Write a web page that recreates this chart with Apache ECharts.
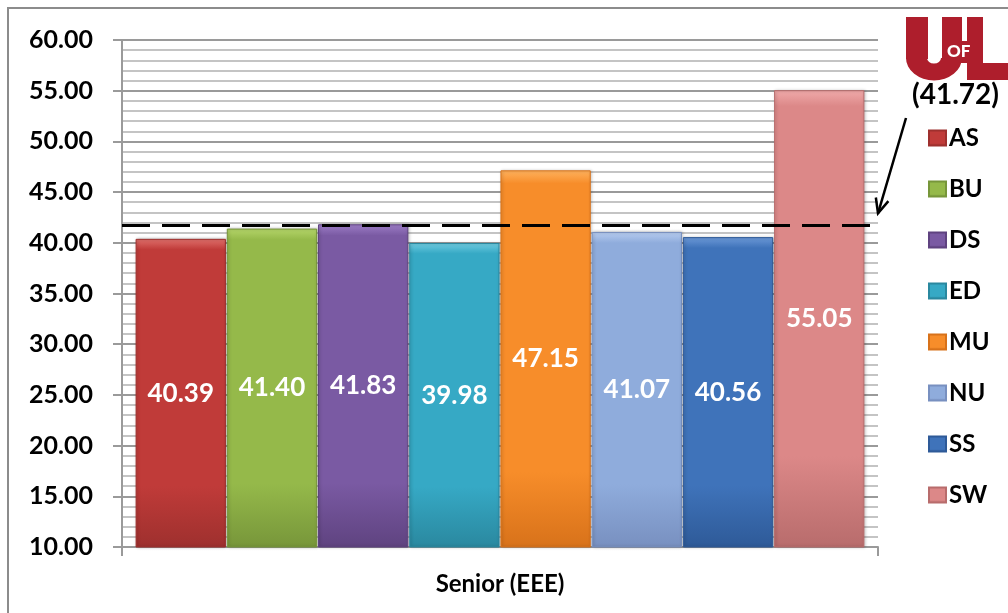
<!DOCTYPE html>
<html>
<head>
<meta charset="utf-8">
<script src="https://cdn.jsdelivr.net/npm/echarts@6/dist/echarts.min.js"></script>
<style>
  html, body { margin: 0; padding: 0; background: #fff; }
  #chart { width: 1008px; height: 613px; }
</style>
</head>
<body>
<div id="chart"></div>
<script>
// Senior (EEE) scores by college, with the university-wide average as a reference line
const categories = ['Senior (EEE)'];
const colleges = ['AS', 'BU', 'DS', 'ED', 'MU', 'NU', 'SS', 'SW'];
const scores = [40.39, 41.40, 41.83, 39.98, 47.15, 41.07, 40.56, 55.05];
const universityAverage = 41.72;
const yTicks = { min: 10, max: 60, interval: 5 };

// top highlight, body, bottom shade for each college
const palette = [
  ['#E0706C', '#C03B39', '#9E302E'],
  ['#B5D66A', '#95B94A', '#77963A'],
  ['#9C7DC6', '#7A5AA3', '#5F4380'],
  ['#6FCBE0', '#36A9C5', '#2A889F'],
  ['#FFB25E', '#F78D2A', '#D8721A'],
  ['#B8CDF0', '#8FACDC', '#7890C0'],
  ['#6D9AD8', '#3F73BA', '#2E5A98'],
  ['#F0AAAA', '#DC8888', '#B86C6C']
];

function barFill(c) {
  return new echarts.graphic.LinearGradient(0, 0, 0, 1, [
    { offset: 0, color: c[0] },
    { offset: 0.035, color: c[1] },
    { offset: 0.8, color: c[1] },
    { offset: 1, color: c[2] }
  ]);
}

const textFont = 'Lato';

const series = colleges.map((name, i) => {
  const s = {
    name: name,
    type: 'bar',
    data: [scores[i]],
    barGap: '1%',
    barCategoryGap: '3.6%',
    itemStyle: {
      color: barFill(palette[i]),
      borderColor: palette[i][2],
      borderWidth: 1,
      shadowColor: 'rgba(0,0,0,0.25)',
      shadowBlur: 3,
      shadowOffsetX: 1
    },
    label: {
      show: true,
      position: 'inside',
      color: '#fff',
      fontFamily: textFont,
      fontWeight: 'bold',
      fontSize: 26,
      formatter: p => p.value.toFixed(2)
    },
    emphasis: { disabled: true }
  };
  if (i === colleges.length - 1) {
    s.markLine = {
      silent: true,
      symbol: ['none', 'none'],
      z: 20,
      label: { show: false },
      lineStyle: { color: '#000', type: [28, 12], width: 3 },
      data: [{ yAxis: universityAverage }]
    };
  }
  return s;
});

const chart = echarts.init(document.getElementById('chart'), null, { renderer: 'canvas' });

chart.setOption({
  animation: false,
  backgroundColor: '#fff',
  color: palette.map(c => c[1]),
  grid: { left: 122, right: 130, top: 40, bottom: 66 },
  legend: {
    orient: 'vertical',
    left: 923,
    top: 118,
    itemWidth: 17,
    itemHeight: 15,
    itemGap: 21,
    icon: 'rect',
    textStyle: { fontFamily: textFont, fontWeight: 'bold', fontSize: 24, color: '#000', lineHeight: 30, padding: [0, 0, 0, -2] },
    data: colleges
  },
  xAxis: {
    type: 'category',
    data: categories,
    axisLine: { show: true, lineStyle: { color: '#9a9a9a', width: 2 } },
    axisTick: { show: true, length: 9, lineStyle: { color: '#9a9a9a', width: 2 } },
    axisLabel: { fontFamily: textFont, fontWeight: 'bold', fontSize: 24, color: '#000', margin: 25 },
    splitLine: { show: false }
  },
  yAxis: {
    type: 'value',
    min: yTicks.min,
    max: yTicks.max,
    interval: yTicks.interval,
    axisLine: { show: true, lineStyle: { color: '#9a9a9a', width: 2 } },
    axisTick: { show: true, length: 9, lineStyle: { color: '#9a9a9a', width: 2 } },
    axisLabel: {
      fontFamily: textFont, fontWeight: 'bold', fontSize: 25, color: '#000', margin: 29,
      formatter: v => v.toFixed(2)
    },
    splitLine: { show: true, lineStyle: { color: '#9a9a9a', width: 2 } },
    minorTick: { show: false, splitNumber: 5 },
    minorSplitLine: { show: true, lineStyle: { color: '#c4c4c4', width: 2 } }
  },
  series: series
});

// reference-line callout, logo and outer frame
const lineY = chart.convertToPixel({ yAxisIndex: 0 }, universityAverage);
const gridRight = chart.getWidth() - 130;
const tip = [gridRight, lineY - 12];
const tail = [906, 118];
const ang = Math.atan2(tip[1] - tail[1], tip[0] - tail[0]);
const headLen = 16, headSpread = 0.42;
const head = [
  [tip[0] - headLen * Math.cos(ang - headSpread), tip[1] - headLen * Math.sin(ang - headSpread)],
  tip,
  [tip[0] - headLen * Math.cos(ang + headSpread), tip[1] - headLen * Math.sin(ang + headSpread)]
];
const red = '#AE1E2C';

chart.setOption({
  graphic: [
    {
      type: 'rect', silent: true, z: 0,
      shape: { x: 8, y: 8, width: 1100, height: 700 },
      style: { fill: 'none', stroke: '#8c8c8c', lineWidth: 2 }
    },
    {
      type: 'text', left: 912, top: 81, z: 30,
      style: { text: '(' + universityAverage.toFixed(2) + ')', font: 'bold 28px Lato', fill: '#000' }
    },
    {
      type: 'polyline', z: 30, silent: true,
      shape: { points: [tail, tip] },
      style: { stroke: '#000', lineWidth: 2.5, fill: 'none' }
    },
    {
      type: 'polyline', z: 30, silent: true,
      shape: { points: head },
      style: { stroke: '#000', lineWidth: 2.5, fill: 'none' }
    },
    // university logo
    { type: 'rect', z: 30, silent: true, shape: { x: 906, y: 17, width: 22, height: 42 }, style: { fill: red } },
    { type: 'rect', z: 30, silent: true, shape: { x: 942, y: 17, width: 20, height: 42 }, style: { fill: red } },
    {
      type: 'sector', z: 30, silent: true, x: 934, y: 58, scaleY: 0.8,
      shape: { cx: 0, cy: 0, r: 28, r0: 7, startAngle: 0, endAngle: Math.PI, clockwise: true },
      style: { fill: red }
    },
    { type: 'rect', z: 30, silent: true, shape: { x: 944, y: 41, width: 34, height: 22 }, style: { fill: red } },
    { type: 'text', z: 31, silent: true, x: 947, y: 43, style: { text: 'OF', font: '900 17px Lato', fill: '#fff' } },
    { type: 'rect', z: 30, silent: true, shape: { x: 967, y: 17, width: 16, height: 63 }, style: { fill: red } },
    { type: 'rect', z: 30, silent: true, shape: { x: 967, y: 63, width: 41, height: 17 }, style: { fill: red } }
  ]
});
</script>
</body>
</html>
